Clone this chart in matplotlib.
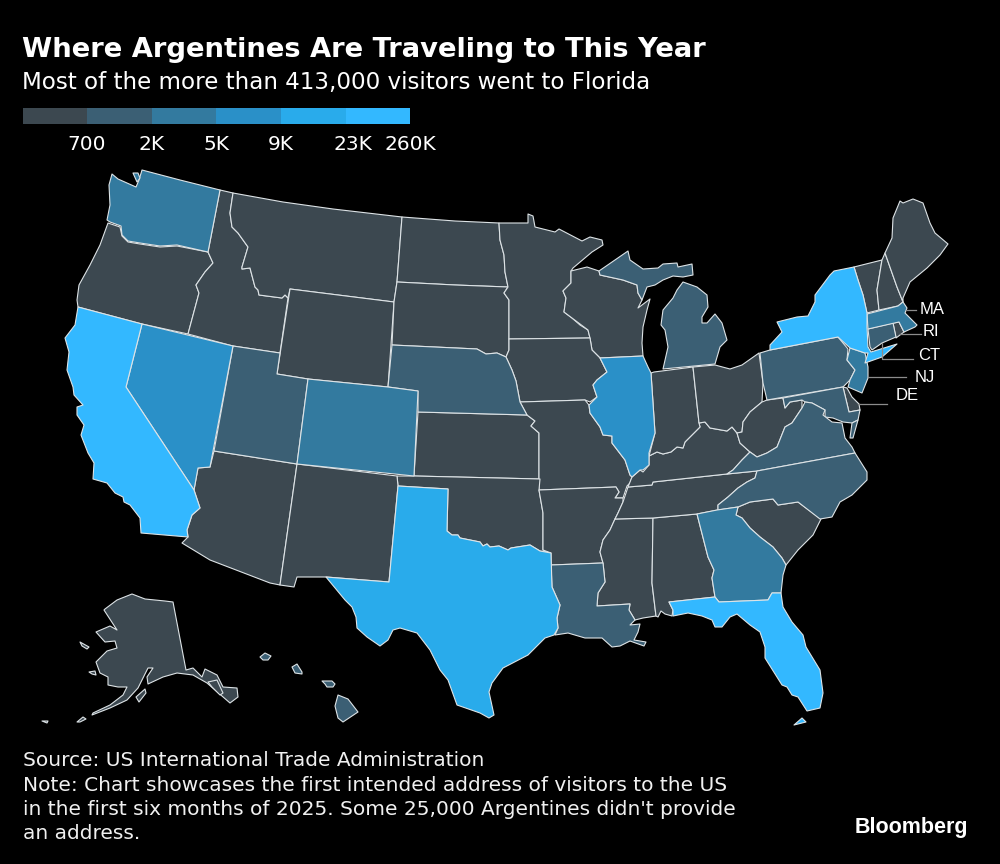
import matplotlib
matplotlib.use("Agg")
import matplotlib.pyplot as plt
from matplotlib.patches import Polygon, Rectangle

# legend bins
BIN_COLORS = ["#3c4850", "#3b5f74", "#337a9f", "#2a90c8", "#29abeb", "#33b8ff"]
BIN_LABELS = ["700", "2K", "5K", "9K", "23K", "260K"]

# which bin each state falls in
BIN0 = ["OR", "ID", "MT", "WY", "ND", "SD", "MN", "WI", "IA", "KS", "MO", "OK", "AR", "AZ", "NM",
        "MS", "AL", "TN", "KY", "IN", "OH", "WV", "SC", "VT", "NH", "ME", "AK", "AK2", "AK3", "AK4",
        "AK5", "AK6", "AK7", "DE", "RI"]
BIN1 = ["UT", "NE", "MI", "MI2", "PA", "MD", "VA", "VA2", "NC", "LA", "CT",
        "HI", "HI2", "HI3", "HI4"]
BIN2 = ["WA", "WA2", "CO", "GA", "NJ", "MA"]
BIN3 = ["NV", "IL"]
BIN4 = ["TX"]
BIN5 = ["CA", "NY", "FL", "FL2"]
STATE_BINS = [BIN0, BIN1, BIN2, BIN3, BIN4, BIN5]

# state outlines (image pixels)
WA = [(112,174),(118,179),(136,187),(139,180),(142,170),(180,180),(220,190),(208,252),(177,245),(160,246),
      (140,243),(128,241),(122,235),(121,226),(110,222),(107,220),(110,205),(109,185)]
WA2 = [(133,173),(138,173),(140,178),(137,182)]
OR = [(108,223),(120,227),(122,236),(128,242),(140,244),(160,247),(177,246),(208,252),(213,263),(205,272),
      (196,285),(199,293),(188,334),(142,324),(78,307),(77,300),(79,285),(90,265),(100,245)]
CA = [(78,307),(142,324),(126,387),(194,490),(200,508),(192,515),(187,530),(188,537),(141,533),(140,518),
      (130,505),(124,502),(123,497),(115,493),(107,483),(93,479),(94,463),(88,453),(81,435),(84,425),
      (77,415),(77,407),(83,405),(74,395),(73,387),(67,370),(69,352),(65,338),(75,325)]
NV = [(142,324),(233,346),(210,467),(198,468),(194,490),(126,387)]
ID = [(220,190),(233,193),(230,213),(232,227),(238,233),(248,247),(242,267),(242,269),(250,268),(255,287),
      (258,290),(259,295),(282,298),(285,295),(288,298),(280,353),(233,346),(188,334),(199,293),(196,285),
      (205,272),(213,263),(208,252)]
MT = [(233,193),(283,202),(333,209),(402,217),(397,282),(394,302),(290,289),(288,298),(285,295),(282,298),
      (259,295),(258,290),(255,287),(250,268),(242,269),(242,267),(248,247),(238,233),(232,227),(230,213)]
WY = [(290,289),(394,302),(388,387),(308,379),(277,374)]
UT = [(233,346),(280,353),(277,374),(308,379),(297,464),(214,451)]
CO = [(308,379),(388,387),(418,391),(414,476),(297,464)]
AZ = [(214,451),(297,464),(280,585),(270,583),(210,560),(182,543),(188,537),(187,530),(192,515),(200,508),
      (194,490),(198,468),(210,467)]
NM = [(297,464),(397,476),(398,486),(389,582),(326,577),(297,577),(294,587),(280,585)]
TX = [(398,486),(448,489),(447,531),(452,535),(458,535),(460,538),(480,542),(483,546),(487,544),(490,547),
      (499,546),(508,550),(511,548),(530,545),(540,551),(551,553),(552,587),(560,605),(557,618),(558,628),
      (554,635),(545,638),(528,655),(503,668),(492,683),(489,692),(494,715),(489,718),(480,713),(457,705),
      (448,680),(440,670),(430,650),(417,633),(400,628),(393,630),(388,640),(380,646),(367,637),(357,628),
      (356,617),(352,607),(345,600),(326,577),(389,582)]
ND = [(402,217),(455,221),(499,223),(500,240),(504,255),(505,272),(508,287),(455,285),(397,282)]
SD = [(397,282),(455,285),(508,287),(504,293),(509,300),(509,339),(509,350),(506,357),(497,353),(486,354),
      (477,349),(392,345),(394,302)]
NE = [(392,345),(477,349),(486,354),(497,353),(506,357),(512,370),(516,381),(520,402),(527,415),(418,412),
      (418,391),(388,387)]
KS = [(418,412),(527,415),(535,421),(531,426),(539,433),(539,479),(414,476)]
OK = [(414,476),(540,479),(539,490),(543,513),(543,550),(551,553),(540,551),(530,545),(511,548),(508,550),
      (499,546),(490,547),(487,544),(483,546),(480,542),(460,538),(458,535),(452,535),(447,531),(448,489),
      (398,486),(397,476)]
MN = [(499,223),(528,223),(528,214),(533,216),(535,227),(555,232),(559,229),(582,241),(590,237),(602,240),
      (603,245),(592,252),(573,268),(571,271),(571,283),(563,291),(566,298),(564,312),(572,318),(580,325),
      (588,330),(590,338),(509,339),(509,300),(504,293),(508,287),(505,272),(504,255),(500,240)]
IA = [(509,339),(590,338),(592,350),(600,358),(607,372),(597,380),(593,385),(597,397),(590,402),(585,400),
      (520,402),(516,381),(512,370),(506,357),(509,350)]
MO = [(520,402),(585,400),(589,405),(590,413),(600,427),(603,435),(612,436),(612,443),(625,460),(630,475),
      (632,477),(630,483),(627,486),(623,498),(615,498),(619,492),(616,487),(539,490),(539,433),(531,426),
      (535,421),(527,415)]
AR = [(539,490),(616,487),(619,492),(615,498),(623,498),(623,502),(618,513),(615,519),(610,530),(603,540),
      (600,552),(603,563),(551,565),(551,553),(543,550),(543,513)]
LA = [(551,565),(603,563),(605,582),(598,593),(597,606),(630,604),(629,610),(635,620),(630,625),(640,624),
      (638,632),(634,640),(646,642),(644,646),(630,641),(620,646),(612,647),(602,638),(585,638),(568,633),
      (555,635),(558,628),(557,618),(560,605),(552,587)]
MS = [(615,519),(653,518),(652,583),(656,616),(643,618),(635,620),(629,610),(630,604),(597,606),(598,593),
      (605,582),(603,563),(600,552),(603,540),(610,530)]
AL = [(653,518),(697,514),(708,557),(714,570),(712,578),(715,597),(669,602),(673,610),(672,616),(665,614),
      (661,611),(658,617),(656,616),(652,583)]
GA = [(697,514),(717,510),(738,507),(736,515),(742,518),(750,528),(760,537),(773,547),(782,558),(786,565),
      (783,575),(781,593),(772,593),(768,600),(719,602),(715,597),(712,578),(714,570),(708,557)]
FL = [(669,602),(715,597),(719,602),(768,600),(772,593),(781,593),(783,607),(792,622),(803,635),(806,647),
      (820,670),(823,693),(820,708),(807,711),(798,697),(792,695),(787,687),(782,685),(765,658),(765,647),
      (760,632),(750,625),(737,614),(730,617),(722,627),(715,627),(712,620),(702,616),(688,613),(673,616),
      (673,610)]
FL2 = [(794,725),(802,718),(806,722)]
SC = [(736,515),(738,507),(750,502),(773,499),(778,505),(798,502),(821,519),(813,535),(798,550),(786,565),
      (782,558),(773,547),(760,537),(750,528),(742,518)]
NC = [(757,471),(855,453),(867,472),(867,480),(852,495),(840,502),(832,517),(820,519),(798,502),(778,505),
      (773,499),(750,502),(738,507),(718,510),(718,505),(728,497),(738,488),(747,482),(755,478)]
VA = [(727,474),(733,470),(742,460),(750,452),(757,457),(767,453),(777,447),(785,427),(792,423),(802,408),
      (805,402),(812,403),(825,410),(823,415),(832,422),(842,423),(845,438),(852,447),(855,453),(757,471)]
VA2 = [(852,423),(858,420),(853,438),(850,438)]
TN = [(628,487),(652,485),(653,482),(727,474),(757,471),(755,478),(747,482),(738,488),(728,497),(718,505),
      (718,510),(697,514),(653,518),(615,519),(618,513),(623,502),(627,490)]
KY = [(649,456),(657,452),(663,454),(671,452),(677,447),(683,448),(685,442),(700,427),(699,423),(705,422),
      (710,428),(727,431),(732,427),(737,433),(740,443),(750,452),(742,460),(733,470),(727,474),(653,482),
      (652,485),(628,487),(632,477),(640,470),(643,472),(649,465)]
IL = [(600,358),(643,356),(648,367),(651,373),(655,433),(649,453),(649,465),(643,470),(640,470),(632,477),
      (630,475),(625,460),(612,443),(612,436),(603,435),(600,427),(590,413),(589,405),(597,397),(593,385),
      (597,380),(607,372)]
IN = [(651,373),(654,372),(693,367),(699,423),(700,427),(685,442),(683,448),(677,447),(671,452),(663,454),
      (657,452),(649,456),(655,433)]
OH = [(693,367),(715,365),(730,369),(742,365),(759,353),(763,383),(762,402),(750,412),(743,422),(742,432),
      (737,433),(732,427),(727,431),(710,428),(705,422),(699,423)]
WV = [(762,402),(767,400),(783,398),(785,408),(790,402),(802,400),(802,408),(792,423),(785,427),(777,447),
      (767,453),(757,457),(750,452),(740,443),(737,433),(742,432),(743,422),(750,412)]
MD = [(783,398),(843,387),(849,412),(860,410),(858,420),(852,423),(843,422),(833,418),(825,417),(825,410),
      (812,403),(805,402),(802,400),(790,402),(785,408)]
DE = [(843,387),(847,388),(852,397),(859,404),(860,410),(849,412)]
PA = [(760,353),(770,350),(838,337),(848,349),(847,360),(855,370),(850,380),(843,387),(767,400),(763,383)]
NJ = [(850,348),(865,353),(868,367),(868,378),(862,393),(848,387),(850,380),(855,370),(847,360)]
NY = [(770,350),(770,345),(782,332),(777,322),(797,317),(808,316),(815,302),(815,295),(830,275),(834,271),
      (854,267),(858,280),(863,295),(867,313),(867,327),(868,347),(871,352),(897,344),(882,357),(865,363),
      (868,353),(865,353),(850,348),(838,337)]
CT = [(868,329),(893,323),(896,337),(882,343),(872,350),(870,347)]
RI = [(893,323),(899,322),(904,332),(896,338)]
MA = [(867,314),(898,306),(903,302),(907,308),(905,313),(917,325),(915,327),(904,332),(899,322),(868,329)]
VT = [(854,267),(882,260),(877,290),(879,310),(867,313),(863,295),(858,280)]
NH = [(882,260),(885,253),(897,287),(903,302),(898,306),(879,310),(877,290)]
ME = [(885,253),(892,238),(893,218),(900,201),(903,203),(913,199),(923,203),(930,223),(935,233),(948,244),
      (940,255),(927,268),(910,282),(903,298),(903,302),(897,287)]
MI = [(715,364),(663,369),(668,347),(665,330),(661,325),(663,310),(673,298),(677,290),(683,282),(697,287),
      (707,295),(708,307),(702,317),(702,323),(707,323),(715,314),(722,323),(727,340),(720,347)]
MI2 = [(599,271),(628,251),(630,260),(643,269),(658,268),(663,264),(677,263),(678,267),(692,264),(693,275),
       (683,277),(673,276),(663,280),(655,285),(647,287),(642,300),(638,293),(637,285),(623,280),(600,275)]
WI = [(571,271),(587,267),(599,271),(600,275),(623,280),(637,285),(638,293),(642,300),(638,308),(650,299),
      (647,310),(643,327),(642,343),(643,356),(600,358),(592,350),(590,338),(588,330),(572,318),(564,312),
      (566,298),(563,291),(571,283)]
AK = [(105,609),(117,600),(132,594),(145,599),(165,601),(173,602),(186,670),(193,668),(202,677),(205,669),
      (217,675),(223,687),(237,688),(238,697),(230,703),(207,683),(193,675),(177,673),(163,677),(148,684),
      (147,677),(153,668),(148,668),(143,678),(138,688),(127,700),(110,708),(92,715),(93,713),(110,705),
      (123,695),(127,687),(118,687),(108,685),(108,677),(100,673),(96,662),(107,651),(117,648),(115,641),
      (105,642),(96,632),(110,626),(117,630),(104,610)]
AK2 = [(136,697),(145,689),(146,693),(139,702)]
AK3 = [(89,672),(95,671),(96,675),(92,674)]
AK4 = [(80,642),(89,647),(87,649),(82,646)]
AK5 = [(77,722),(83,717),(86,719),(80,722)]
AK6 = [(42,721),(48,721),(47,723)]
AK7 = [(208,682),(217,680),(223,693),(220,695),(212,687)]
HI = [(260,657),(265,653),(271,656),(268,660),(263,660)]
HI2 = [(292,667),(297,664),(302,672),(302,674),(295,673)]
HI3 = [(322,681),(332,681),(335,684),(333,687),(327,687),(325,684)]
HI4 = [(338,695),(348,699),(358,712),(343,722),(338,718),(335,706)]

# callout labels for the small states
CALLOUTS = ["MA", "RI", "CT", "NJ", "DE"]
CALLOUT_LINES = [[(906,310),(916,310)], [(900,334),(921,334)], [(882,343),(882,359),(913,359)],
                 [(868,377),(906,377)], [(858,404),(887,404)]]
CALLOUT_TEXT_POS = [(920,310), (923,332), (918,356), (915,377), (896,396)]

TITLE = "Where Argentines Are Traveling to This Year"
SUBTITLE = "Most of the more than 413,000 visitors went to Florida"
FOOTNOTE = ["Source: US International Trade Administration",
            "Note: Chart showcases the first intended address of visitors to the US",
            "in the first six months of 2025. Some 25,000 Argentines didn't provide",
            "an address."]

fig = plt.figure(figsize=(10, 8.64), dpi=100, facecolor="black")
ax = fig.add_axes([0, 0, 1, 1])
ax.set_xlim(0, 1000)
ax.set_ylim(864, 0)
ax.axis("off")

# map
for names, color in zip(STATE_BINS, BIN_COLORS):
    for name in names:
        ax.add_patch(Polygon(globals()[name], closed=True, facecolor=color,
                             edgecolor="#dde3e6", linewidth=0.8, joinstyle="round"))

# callouts
for line, label, pos in zip(CALLOUT_LINES, CALLOUTS, CALLOUT_TEXT_POS):
    ax.plot([p[0] for p in line], [p[1] for p in line], color="#8c8c8c", lw=0.9)
    ax.text(pos[0], pos[1], label, color="white", fontsize=12, family="Liberation Sans",
            va="center", ha="left")

# legend
x0, step = 22.5, 64.6
for i, (color, label) in enumerate(zip(BIN_COLORS, BIN_LABELS)):
    ax.add_patch(Rectangle((x0 + i * step, 108), step, 16, facecolor=color, edgecolor="none"))
    xpos = x0 + (i + 1) * step
    if label == "23K":
        xpos += 7
    ax.text(xpos, 144, label, color="white", fontsize=14.5, ha="center", va="center")

# text
ax.text(22, 50, TITLE, color="white", fontsize=19.7, fontweight="bold", va="center", ha="left")
ax.text(22, 82, SUBTITLE, color="white", fontsize=16.6, va="center", ha="left")
for i, line in enumerate(FOOTNOTE):
    ax.text(23, 761 + i * 24.3, line, color="#f0f0f0", fontsize=14.5, va="center", ha="left")
ax.text(968, 828, "Bloomberg", color="white", fontsize=15.5, fontweight="bold",
        family="Liberation Sans", va="center", ha="right")

fig.savefig("out.png", dpi=100, facecolor="black")
